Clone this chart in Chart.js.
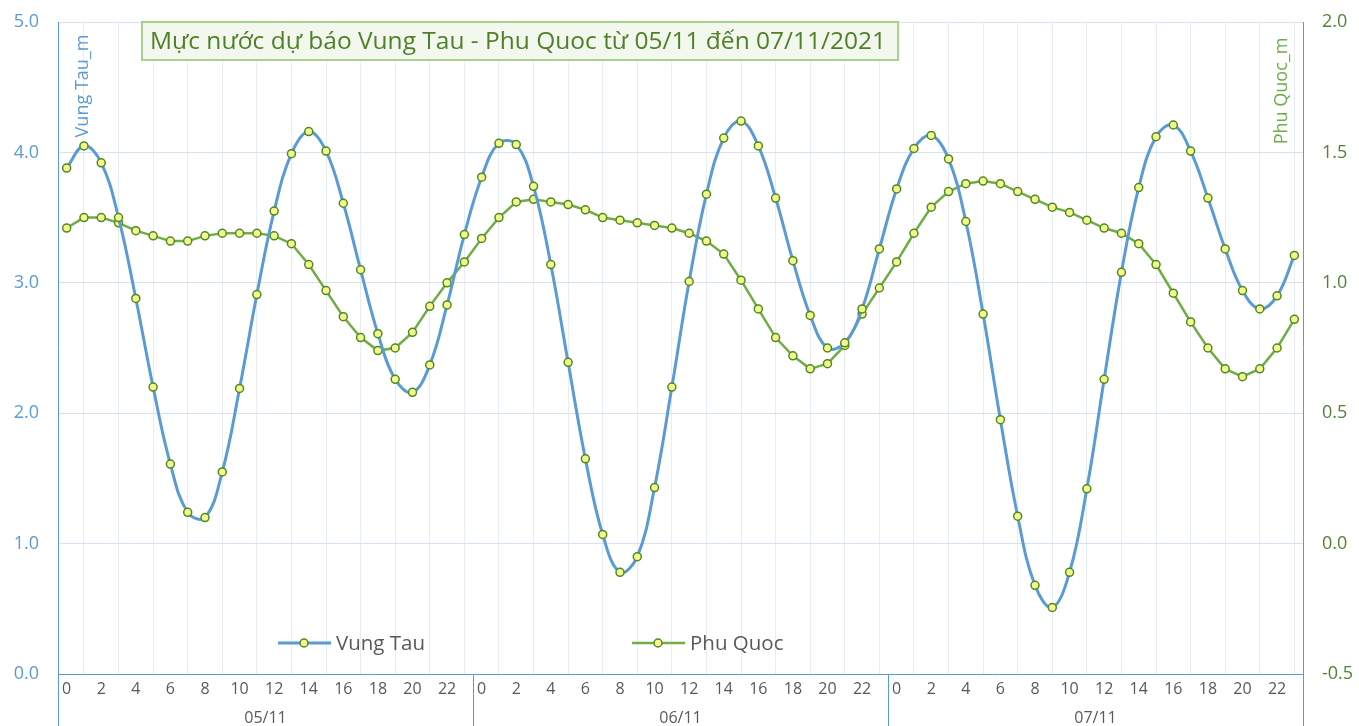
<!DOCTYPE html>
<html lang="vi">
<head>
<meta charset="UTF-8">
<title>Mực nước dự báo Vung Tau - Phu Quoc</title>
<style>
    html, body { margin: 0; padding: 0; background: #ffffff; }
    #wrap { width: 1359px; height: 726px; }
</style>
</head>
<body>
<div id="wrap"><canvas id="tideChart"></canvas></div>

<script src="https://cdn.jsdelivr.net/npm/chart.js"></script>
<script>
// hourly labels for the three days
const hours = [
    0,1,2,3,4,5,6,7,8,9,10,11,12,13,14,15,16,17,18,19,20,21,22,23,
    0,1,2,3,4,5,6,7,8,9,10,11,12,13,14,15,16,17,18,19,20,21,22,23,
    0,1,2,3,4,5,6,7,8,9,10,11,12,13,14,15,16,17,18,19,20,21,22,23
];
const days = ['05/11', '06/11', '07/11'];

// water level (m)
const vungTau = [
    3.88, 4.05, 3.92, 3.50, 2.88, 2.20, 1.61, 1.24, 1.20, 1.55, 2.19, 2.91,
    3.55, 3.99, 4.16, 4.01, 3.61, 3.10, 2.61, 2.26, 2.16, 2.37, 2.83, 3.37,
    3.81, 4.07, 4.06, 3.74, 3.14, 2.39, 1.65, 1.07, 0.78, 0.90, 1.43, 2.20,
    3.01, 3.68, 4.11, 4.24, 4.05, 3.65, 3.17, 2.75, 2.50, 2.54, 2.80, 3.26,
    3.72, 4.03, 4.13, 3.95, 3.47, 2.76, 1.95, 1.21, 0.68, 0.51, 0.78, 1.42,
    2.26, 3.08, 3.73, 4.12, 4.21, 4.01, 3.65, 3.26, 2.94, 2.80, 2.90, 3.21
];
const phuQuoc = [
    1.21, 1.25, 1.25, 1.23, 1.20, 1.18, 1.16, 1.16, 1.18, 1.19, 1.19, 1.19,
    1.18, 1.15, 1.07, 0.97, 0.87, 0.79, 0.74, 0.75, 0.81, 0.91, 1.00, 1.08,
    1.17, 1.25, 1.31, 1.32, 1.31, 1.30, 1.28, 1.25, 1.24, 1.23, 1.22, 1.21,
    1.19, 1.16, 1.11, 1.01, 0.90, 0.79, 0.72, 0.67, 0.69, 0.76, 0.88, 0.98,
    1.08, 1.19, 1.29, 1.35, 1.38, 1.39, 1.38, 1.35, 1.32, 1.29, 1.27, 1.24,
    1.21, 1.19, 1.15, 1.07, 0.96, 0.85, 0.75, 0.67, 0.64, 0.67, 0.75, 0.86
];

const FONT = '"Open Sans", "Noto Sans", sans-serif';
const titleText = 'Mực nước dự báo Vung Tau - Phu Quoc từ 05/11 đến 07/11/2021';

// title box, axis names, in-plot legend, day labels
const decor = {
    id: 'decor',
    afterDraw(chart) {
        const ctx = chart.ctx;
        const area = chart.chartArea;
        const xs = chart.scales.x;
        const half = (xs.getPixelForValue(1) - xs.getPixelForValue(0)) / 2;

        ctx.save();

        // day separators + day labels under the hour ticks
        ctx.strokeStyle = '#5b9bd5';
        ctx.lineWidth = 1;
        for (let d = 0; d <= days.length; d++) {
            const px = Math.round(xs.getPixelForValue(Math.min(d * 24, hours.length - 1)) + (d * 24 < hours.length ? -half : half)) + 0.5;
            ctx.beginPath();
            ctx.moveTo(px, area.bottom);
            ctx.lineTo(px, chart.height);
            ctx.stroke();
        }
        ctx.fillStyle = '#595959';
        ctx.font = '16px ' + FONT;
        ctx.textAlign = 'center';
        ctx.textBaseline = 'middle';
        days.forEach((lbl, d) => {
            const cx = (xs.getPixelForValue(d * 24) + xs.getPixelForValue(d * 24 + 23)) / 2;
            ctx.fillText(lbl, cx, area.bottom + 44);
        });

        // title box
        ctx.font = '24.5px ' + FONT;
        const tw = ctx.measureText(titleText).width;
        const bx = area.left + 84, by = area.top, bh = 38;
        ctx.fillStyle = '#f2f8ee';
        ctx.fillRect(bx, by, tw + 20, bh);
        ctx.strokeStyle = '#a9d18e';
        ctx.lineWidth = 2;
        ctx.strokeRect(bx, by, tw + 20, bh);
        ctx.fillStyle = '#4f7f27';
        ctx.textAlign = 'left';
        ctx.fillText(titleText, bx + 8, by + bh / 2 + 1);

        // rotated axis names inside the plot
        ctx.font = '18px ' + FONT;
        ctx.textAlign = 'center';
        ctx.save();
        ctx.translate(area.left + 25, area.top + 64);
        ctx.rotate(-Math.PI / 2);
        ctx.fillStyle = '#5b9bd5';
        ctx.fillText('Vung Tau_m', 0, 0);
        ctx.restore();
        ctx.save();
        ctx.translate(area.right - 21, area.top + 69);
        ctx.rotate(-Math.PI / 2);
        ctx.fillStyle = '#70ad47';
        ctx.fillText('Phu Quoc_m', 0, 0);
        ctx.restore();

        // legend
        const ly = area.bottom - 31;
        const items = [[0, area.left + 220], [1, area.left + 574]];
        ctx.font = '20.5px ' + FONT;
        ctx.textAlign = 'left';
        items.forEach(([i, lx]) => {
            const ds = chart.data.datasets[i];
            ctx.strokeStyle = ds.borderColor;
            ctx.lineWidth = ds.borderWidth;
            ctx.beginPath();
            ctx.moveTo(lx, ly);
            ctx.lineTo(lx + 53, ly);
            ctx.stroke();
            ctx.beginPath();
            ctx.arc(lx + 26, ly, ds.pointRadius, 0, Math.PI * 2);
            ctx.fillStyle = ds.pointBackgroundColor;
            ctx.fill();
            ctx.lineWidth = ds.pointBorderWidth;
            ctx.strokeStyle = ds.pointBorderColor;
            ctx.stroke();
            ctx.fillStyle = '#595959';
            ctx.fillText(ds.label, lx + 58, ly + 1);
        });

        ctx.restore();
    }
};

// fixed axis sizes, and no extra room for tick label overflow
const fixY = w => s => { s.width = w; s.paddingTop = 0; s.paddingBottom = 0; };

new Chart(document.getElementById('tideChart'), {
    type: 'line',
    data: {
        labels: hours,
        datasets: [
            {
                label: 'Vung Tau',
                data: vungTau,
                yAxisID: 'y',
                borderColor: '#5b9bd5',
                borderWidth: 3,
                tension: 0.4,
                pointRadius: 4,
                pointBorderWidth: 1.5,
                pointBackgroundColor: '#f4f88e',
                pointBorderColor: '#4e8a1f'
            },
            {
                label: 'Phu Quoc',
                data: phuQuoc,
                yAxisID: 'y1',
                borderColor: '#70ad47',
                borderWidth: 2.5,
                tension: 0,
                pointRadius: 4,
                pointBorderWidth: 1.5,
                pointBackgroundColor: '#f4f88e',
                pointBorderColor: '#4e8a1f'
            }
        ]
    },
    options: {
        responsive: true,
        maintainAspectRatio: false,
        animation: false,
        layout: { padding: { top: 22, left: 0, right: 0, bottom: 0 } },
        plugins: {
            legend: { display: false },
            title: { display: false },
            tooltip: { enabled: false }
        },
        scales: {
            x: {
                type: 'category',
                offset: true,
                grid: { offset: true, color: '#e7edf7', drawTicks: false },
                border: { color: '#5b9bd5' },
                ticks: {
                    autoSkip: false,
                    maxRotation: 0,
                    padding: 6,
                    color: '#595959',
                    font: { size: 16, family: FONT },
                    callback: (v, i) => (i % 2 === 0 ? String(hours[i]) : null)
                },
                afterFit: s => { s.height = 52; s.paddingLeft = 0; s.paddingRight = 0; }
            },
            y: {
                position: 'left',
                min: 0,
                max: 5,
                grid: { color: '#d7e1f1', drawTicks: false },
                border: { color: '#5b9bd5' },
                ticks: {
                    stepSize: 0.5,
                    padding: 19,
                    color: '#5b9bd5',
                    font: { size: 18, family: FONT },
                    callback: v => (Number.isInteger(v) ? v.toFixed(1) : null)
                },
                afterFit: fixY(58)
            },
            y1: {
                position: 'right',
                min: -0.5,
                max: 2,
                grid: { drawOnChartArea: false, drawTicks: false },
                border: { color: '#5b9bd5' },
                ticks: {
                    stepSize: 0.5,
                    padding: 19,
                    color: '#548235',
                    font: { size: 18, family: FONT },
                    callback: v => v.toFixed(1)
                },
                afterFit: fixY(56)
            }
        }
    },
    plugins: [decor]
});
</script>
</body>
</html>
